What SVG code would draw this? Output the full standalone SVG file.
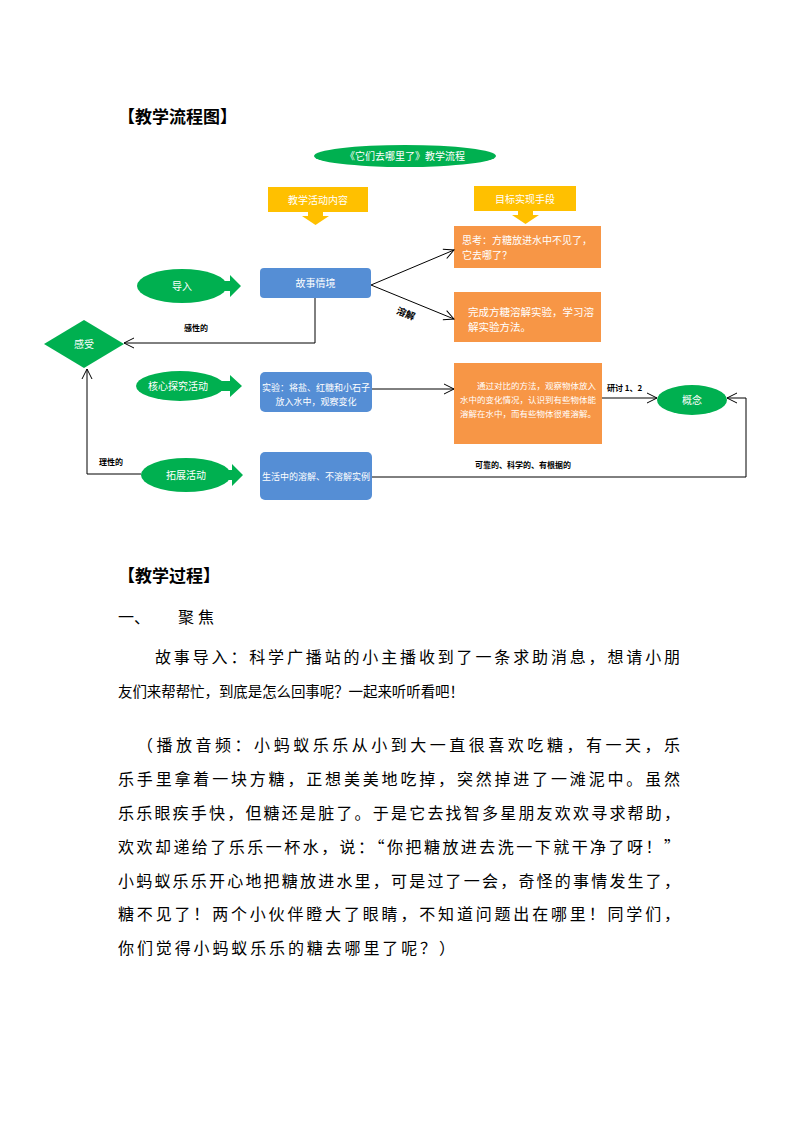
<svg xmlns="http://www.w3.org/2000/svg" width="794" height="1123" viewBox="0 0 794 1123">
<defs>
<marker id="open" viewBox="0 0 12 12" refX="11" refY="6" markerWidth="12" markerHeight="12" markerUnits="userSpaceOnUse" orient="auto">
<path d="M1,1 L11,6 L1,11" fill="none" stroke="#000" stroke-width="1"/>
</marker>
<style>
.cjk{font-family:"Noto Sans CJK SC","Noto Sans",sans-serif;}
.h{font-size:17px;font-weight:bold;fill:#000;}
.body{font-size:16px;fill:#000;}
.w{fill:#fff;font-size:10px;}
.lbl{fill:#000;font-size:8px;font-weight:bold;}
.green{fill:#00B050;}
.blue{fill:#558ED5;}
.orange{fill:#F79646;}
.yellow{fill:#FFC000;}
.conn{fill:none;stroke:#000;stroke-width:1;}
</style>
</defs>
<rect width="794" height="1123" fill="#fff"/>

<text class="cjk h" x="118" y="123">【教学流程图】</text>

<g id="title">
<ellipse class="green" cx="405" cy="156" rx="91" ry="11"/>
<text class="cjk w" x="405" y="159.5" text-anchor="middle">《它们去哪里了》教学流程</text>
</g>

<g id="yellow1">
<rect class="yellow" x="268" y="187" width="100" height="25"/>
<polygon class="yellow" points="308,212 323,212 323,216 329,216 315.5,225 302,216 308,216"/>
<text class="cjk w" x="318" y="203.5" text-anchor="middle">教学活动内容</text>
</g>
<g id="yellow2">
<rect class="yellow" x="474" y="186" width="102" height="25"/>
<polygon class="yellow" points="518,211 533,211 533,215 539,215 525.5,224 512,215 518,215"/>
<text class="cjk w" x="525" y="202.5" text-anchor="middle">目标实现手段</text>
</g>

<g id="orange1">
<rect class="orange" x="454" y="226" width="147" height="42"/>
<text class="cjk w" x="462" y="244">思考：方糖放进水中不见了，</text>
<text class="cjk w" x="462" y="259">它去哪了？</text>
</g>

<g id="orange2">
<rect class="orange" x="454" y="292" width="147" height="50"/>
<text class="cjk w" x="468" y="316" style="font-size:10.5px">完成方糖溶解实验，学习溶</text>
<text class="cjk w" x="468" y="331" style="font-size:10.5px">解实验方法。</text>
</g>

<g id="orange3">
<rect class="orange" x="454" y="363" width="148" height="81"/>
<text class="cjk w" x="477" y="389" style="font-size:8.5px">通过对比的方法，观察物体放入</text>
<text class="cjk w" x="460" y="403" style="font-size:8.5px">水中的变化情况，认识到有些物体能</text>
<text class="cjk w" x="460" y="417" style="font-size:8.5px">溶解在水中，而有些物体很难溶解。</text>
</g>

<g id="story">
<rect class="blue" x="260" y="268" width="111" height="30" rx="4"/>
<text class="cjk w" x="315.5" y="287" text-anchor="middle">故事情境</text>
</g>

<g id="experiment">
<rect class="blue" x="260" y="372" width="112" height="40" rx="5"/>
<text class="cjk w" x="316" y="391" text-anchor="middle" style="font-size:9px">实验：将盐、红糖和小石子</text>
<text class="cjk w" x="316" y="405" text-anchor="middle" style="font-size:9px">放入水中，观察变化</text>
</g>

<g id="life">
<rect class="blue" x="260" y="452" width="112" height="48" rx="5"/>
<text class="cjk w" x="316" y="480" text-anchor="middle" style="font-size:9px">生活中的溶解、不溶解实例</text>
</g>

<g id="intro">
<ellipse class="green" cx="182" cy="286" rx="45" ry="17"/>
<polygon class="green" points="220,281 230,281 230,275 241,286 230,297 230,291 220,291"/>
<text class="cjk w" x="182" y="290" text-anchor="middle">导入</text>
</g>

<g id="core">
<ellipse class="green" cx="180" cy="386" rx="44" ry="15"/>
<polygon class="green" points="218,381 230,381 230,375 242,386 230,397 230,391 218,391"/>
<text class="cjk w" x="178" y="390" text-anchor="middle">核心探究活动</text>
</g>

<g id="extend">
<ellipse class="green" cx="186" cy="475" rx="45" ry="17"/>
<polygon class="green" points="224,470 232,470 232,464 243,475 232,486 232,480 224,480"/>
<text class="cjk w" x="186" y="479" text-anchor="middle">拓展活动</text>
</g>

<g id="feel">
<polygon class="green" points="84,320 124,344 84,368 44,344"/>
<text class="cjk w" x="84" y="348" text-anchor="middle">感受</text>
</g>

<g id="concept">
<ellipse class="green" cx="692" cy="400" rx="35" ry="15"/>
<text class="cjk w" x="692" y="404" text-anchor="middle">概念</text>
</g>

<g id="connectors">
<line class="conn" x1="371" y1="285" x2="454" y2="250" marker-end="url(#open)"/>
<line class="conn" x1="371" y1="285" x2="454" y2="319" marker-end="url(#open)"/>
<polyline class="conn" points="315,298 315,343 124,343" marker-end="url(#open)"/>
<line class="conn" x1="372" y1="389" x2="454" y2="389" marker-end="url(#open)"/>
<line class="conn" x1="602" y1="398" x2="657" y2="398" marker-end="url(#open)"/>
<polyline class="conn" points="372,477 746,477 746,398 727,398" marker-end="url(#open)"/>
<polyline class="conn" points="141,474 87,474 87,369" marker-end="url(#open)"/>
<text class="cjk lbl" x="406" y="317" text-anchor="middle" transform="rotate(22 406 313)" style="font-size:9.5px">溶解</text>
<text class="cjk lbl" x="196" y="331" text-anchor="middle">感性的</text>
<text class="cjk lbl" x="607" y="391">研讨 1、2</text>
<text class="cjk lbl" x="523" y="468" text-anchor="middle">可靠的、科学的、有根据的</text>
<text class="cjk lbl" x="111" y="465" text-anchor="middle">理性的</text>
</g>

<text class="cjk h" x="118" y="582">【教学过程】</text>
<text class="cjk body" x="118" y="623">一、</text>
<text class="cjk body" x="178" y="623" textLength="36" lengthAdjust="spacing">聚焦</text>

<g class="cjk body">
<text x="155" y="663" textLength="525" lengthAdjust="spacing">故事导入：科学广播站的小主播收到了一条求助消息，想请小朋</text>
<text x="118" y="697" textLength="346" lengthAdjust="spacing" style="font-size:14.5px">友们来帮帮忙，到底是怎么回事呢？一起来听听看吧！</text>
<text x="137" y="751" textLength="543" lengthAdjust="spacing">（播放音频：小蚂蚁乐乐从小到大一直很喜欢吃糖，有一天，乐</text>
<text x="118" y="785" textLength="562" lengthAdjust="spacing">乐手里拿着一块方糖，正想美美地吃掉，突然掉进了一滩泥中。虽然</text>
<text x="118" y="819" textLength="562" lengthAdjust="spacing">乐乐眼疾手快，但糖还是脏了。于是它去找智多星朋友欢欢寻求帮助，</text>
<text x="118" y="853" textLength="562" lengthAdjust="spacing">欢欢却递给了乐乐一杯水，说：“你把糖放进去洗一下就干净了呀！”</text>
<text x="118" y="887" textLength="562" lengthAdjust="spacing">小蚂蚁乐乐开心地把糖放进水里，可是过了一会，奇怪的事情发生了，</text>
<text x="118" y="920" textLength="562" lengthAdjust="spacing">糖不见了！两个小伙伴瞪大了眼睛，不知道问题出在哪里！同学们，</text>
<text x="118" y="954" textLength="337" lengthAdjust="spacing">你们觉得小蚂蚁乐乐的糖去哪里了呢？）</text>
</g>
</svg>
